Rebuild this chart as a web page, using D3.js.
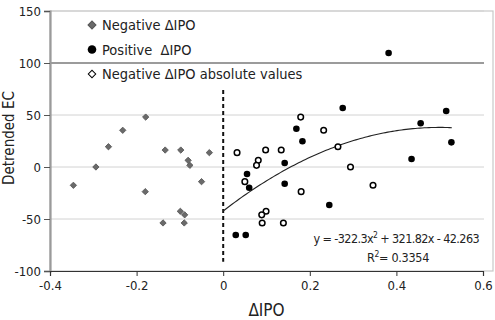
<!DOCTYPE html>
<html><head><meta charset="utf-8">
<script src="https://cdn.jsdelivr.net/npm/d3@7"></script>
<style>
body{margin:0;background:#fff;}
svg{display:block;font-family:"DejaVu Sans Condensed","DejaVu Sans",sans-serif;}
</style></head>
<body><svg id="c" width="495" height="320"></svg>
<script>
// ---- data ----
const negX = [-0.346,-0.294,-0.265,-0.232,-0.179,-0.180,-0.139,-0.134,-0.098,-0.099,-0.089,-0.090,-0.081,-0.077,-0.050,-0.032];
const negY = [-17.6,0.0,19.5,35.3,48.0,-23.7,-53.8,16.3,16.3,-42.6,-46.0,-53.8,6.4,1.6,-14.1,13.8];
const posX = [0.029,0.052,0.055,0.060,0.142,0.142,0.169,0.183,0.245,0.276,0.382,0.435,0.456,0.515,0.527];
const posY = [-65.4,-65.4,-6.7,-19.9,3.8,-16.1,36.8,24.7,-36.5,56.7,109.6,7.7,42.0,53.8,23.7];
const absX = [0.346,0.294,0.265,0.232,0.179,0.180,0.139,0.134,0.098,0.099,0.089,0.090,0.081,0.077,0.050,0.032];
const absY = [-17.6,0.0,19.5,35.3,48.0,-23.7,-53.8,16.3,16.3,-42.6,-46.0,-53.8,6.4,1.6,-14.1,13.8];
const trendCoef = [-322.3, 321.82, -42.263]; // a, b, c
const trendRange = [0, 0.528];
const xTicks = [-0.4,-0.2,0,0.2,0.4,0.6];
const xTickLabels = ["-0.4","-0.2","0","0.2","0.4","0.6"];
const yTicks = [-100,-50,0,50,100,150];
const yTickLabels = ["-100","-50","0","50","100","150"];
const legendLabels = ["Negative \u0394IPO","Positive  \u0394IPO","Negative \u0394IPO absolute values"];
const eqText = ["y = -322.3x","2"," + 321.82x - 42.263"];
const r2Text = ["R","2","= 0.3354"];
const dashRange = [74, -91];

// ---- scales ----
const svg = d3.select("#c");
const x = d3.scaleLinear().domain([-0.4,0.6]).range([50,483]);
const y = d3.scaleLinear().domain([-100,150]).range([271,11]);

// plot border
svg.append("rect").attr("x",50).attr("y",11).attr("width",443).attr("height",260)
  .attr("fill","none").attr("stroke","#c8c8c8").attr("stroke-width",1.2);

// gridlines
svg.append("g").selectAll("line").data(yTicks.filter(d=>d>-100)).join("line")
  .attr("x1",50).attr("x2",484).attr("y1",d=>y(d)).attr("y2",d=>y(d))
  .attr("stroke",d=>d===100?"#7a7a7a":"#d2d2d2").attr("stroke-width",d=>d===100?1.4:1);

// axes
const yAxis = svg.append("g").attr("transform","translate(50,0)")
  .call(d3.axisLeft(y).tickValues(yTicks).tickSize(6).tickPadding(3).tickFormat((d,i)=>yTickLabels[i]));
yAxis.select(".domain").attr("stroke","#9a9a9a").attr("stroke-width",2.2);
yAxis.selectAll(".tick line").attr("stroke","#555");
yAxis.selectAll("text").attr("font-size",13).attr("fill","#222").attr("font-family","DejaVu Sans Condensed, DejaVu Sans");

const xAxis = svg.append("g").attr("transform","translate(0,271)")
  .call(d3.axisBottom(x).tickValues(xTicks).tickSize(5).tickPadding(5).tickFormat((d,i)=>xTickLabels[i]));
xAxis.select(".domain").attr("stroke","#333").attr("stroke-width",1.2);
xAxis.selectAll(".tick line").attr("stroke","#333");
xAxis.selectAll("text").attr("font-size",13).attr("fill","#222").attr("font-family","DejaVu Sans Condensed, DejaVu Sans");

// axis titles
svg.append("text").attr("x",x(0.1)).attr("y",316).attr("text-anchor","middle")
  .attr("font-size",17).attr("fill","#222").text("\u0394IPO");
svg.append("text").attr("transform","translate(13.5,138) rotate(-90)").attr("text-anchor","middle")
  .attr("font-size",15).attr("fill","#222").text("Detrended EC");

// dashed zero line
svg.append("line").attr("x1",x(0)).attr("x2",x(0)).attr("y1",y(dashRange[0])).attr("y2",y(dashRange[1]))
  .attr("stroke","#111").attr("stroke-width",2).attr("stroke-dasharray","4,3");

// trend curve
const tx = d3.range(0, 101).map(i => trendRange[0] + (trendRange[1]-trendRange[0])*i/100);
const line = d3.line().x(d=>x(d)).y(d=>y(trendCoef[0]*d*d + trendCoef[1]*d + trendCoef[2]));
svg.append("path").attr("d",line(tx)).attr("fill","none").attr("stroke","#222").attr("stroke-width",1.1);

// points
svg.append("g").selectAll("path").data(negX.map((v,i)=>[v,negY[i]])).join("path")
  .attr("d",d3.symbol().type(d3.symbolSquare).size(20))
  .attr("transform",d=>`translate(${x(d[0])},${y(d[1])}) rotate(45)`)
  .attr("fill","#6a6a6a").attr("stroke","#555").attr("stroke-width",0.8);
svg.append("g").selectAll("circle").data(absX.map((v,i)=>[v,absY[i]])).join("circle")
  .attr("cx",d=>x(d[0])).attr("cy",d=>y(d[1])).attr("r",2.8)
  .attr("fill","#fff").attr("stroke","#000").attr("stroke-width",1.5);
svg.append("g").selectAll("circle").data(posX.map((v,i)=>[v,posY[i]])).join("circle")
  .attr("cx",d=>x(d[0])).attr("cy",d=>y(d[1])).attr("r",3.3).attr("fill","#000");

// legend
const lg = svg.append("g");
const ly = [25, 49.5, 74];
lg.append("path").attr("d",d3.symbol().type(d3.symbolSquare).size(32)())
  .attr("transform",`translate(92,${ly[0]}) rotate(45)`).attr("fill","#6a6a6a").attr("stroke","#555");
lg.append("circle").attr("cx",92).attr("cy",ly[1]).attr("r",4.3).attr("fill","#000");
lg.append("path").attr("d",d3.symbol().type(d3.symbolSquare).size(28)())
  .attr("transform",`translate(92,${ly[2]}) rotate(45)`).attr("fill","#fff").attr("stroke","#000").attr("stroke-width",1);
lg.selectAll("text").data(legendLabels).join("text")
  .attr("x",102).attr("y",(d,i)=>ly[i]+5).attr("font-size",14.5).attr("fill","#222")
  .attr("xml:space","preserve").style("white-space","pre").text(d=>d);

// equation
const eq = svg.append("text").attr("x",479).attr("y",242.5).attr("text-anchor","end")
  .attr("font-size",12.5).attr("letter-spacing",-0.6).attr("fill","#222");
eq.append("tspan").text(eqText[0]);
eq.append("tspan").attr("dy",-5).attr("font-size",8.5).text(eqText[1]);
eq.append("tspan").attr("dy",5).text(eqText[2]);
const r2 = svg.append("text").attr("x",429).attr("y",262).attr("text-anchor","end")
  .attr("font-size",12.5).attr("letter-spacing",-0.3).attr("fill","#222");
r2.append("tspan").text(r2Text[0]);
r2.append("tspan").attr("dy",-5).attr("font-size",8.5).text(r2Text[1]);
r2.append("tspan").attr("dy",5).text(r2Text[2]);
</script></body></html>
